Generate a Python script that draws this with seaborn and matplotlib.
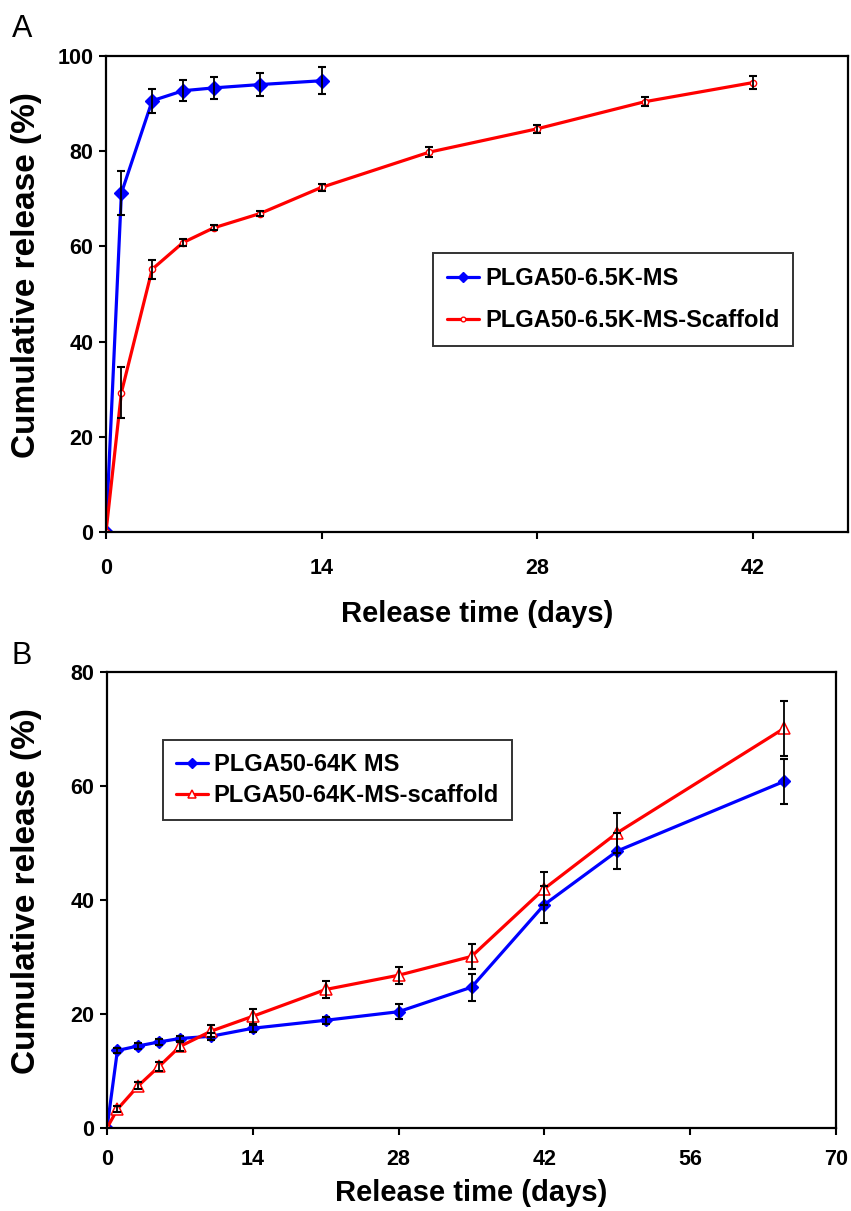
import matplotlib
matplotlib.use("Agg")
import matplotlib.pyplot as plt
import seaborn as sns
import numpy as np

# ---------------- data ----------------
# Panel A
a_days_ms = [0, 1, 3, 5, 7, 10, 14]
a_ms = [0, 71.2, 90.6, 92.7, 93.3, 94.0, 94.8]
a_ms_err = [0, 4.6, 2.5, 2.2, 2.3, 2.4, 2.8]

a_days_sc = [0, 1, 3, 5, 7, 10, 14, 21, 28, 35, 42]
a_sc = [0, 29.3, 55.2, 60.8, 63.9, 66.9, 72.4, 79.8, 84.7, 90.4, 94.4]
a_sc_err = [0, 5.3, 2.0, 0.8, 0.5, 0.5, 0.8, 1.0, 0.8, 1.0, 1.3]

a_labels = ["PLGA50-6.5K-MS", "PLGA50-6.5K-MS-Scaffold"]
a_xticks = [0, 14, 28, 42]
a_yticks = [0, 20, 40, 60, 80, 100]

# Panel B
b_days = [0, 1, 3, 5, 7, 10, 14, 21, 28, 35, 42, 49, 65]
b_ms = [0, 13.6, 14.4, 15.1, 15.7, 16.1, 17.5, 18.9, 20.4, 24.7, 39.2, 48.6, 60.8]
b_ms_err = [0, 0.5, 0.5, 0.5, 0.5, 0.6, 0.6, 0.6, 1.3, 2.4, 3.2, 3.2, 3.9]
b_sc = [0, 3.3, 7.4, 10.8, 14.3, 17.0, 19.6, 24.3, 26.8, 30.1, 42.0, 51.8, 70.1]
b_sc_err = [0, 0.5, 0.6, 0.8, 0.8, 1.0, 1.3, 1.5, 1.5, 2.2, 2.9, 3.5, 4.9]

b_labels = ["PLGA50-64K MS", "PLGA50-64K-MS-scaffold"]
b_xticks = [0, 14, 28, 42, 56, 70]
b_yticks = [0, 20, 40, 60, 80]

xlabel = "Release time (days)"
ylabel = "Cumulative release (%)"

# ---------------- style ----------------
sns.set_theme(style="ticks")
plt.rcParams["font.family"] = ["Liberation Sans", "DejaVu Sans"]
plt.rcParams["text.color"] = "black"
plt.rcParams["axes.labelcolor"] = "black"
plt.rcParams["xtick.color"] = "black"
plt.rcParams["ytick.color"] = "black"
plt.rcParams["legend.labelcolor"] = "black"

BLUE = "#0000ff"
RED = "#ff0000"

W, H = 851, 1211
fig = plt.figure(figsize=(W / 100, H / 100), dpi=100)


def px_axes(left, top, right, bottom):
    return fig.add_axes([left / W, 1 - bottom / H, (right - left) / W, (bottom - top) / H])


def style_axes(ax, xticks, yticks, xlim, ylim, xpad, xlabel_y, ylabel_x, ylabel_y):
    ax.set_xlim(*xlim)
    ax.set_ylim(*ylim)
    ax.set_xticks(xticks)
    ax.set_yticks(yticks)
    for s in ax.spines.values():
        s.set_visible(True)
        s.set_color("black")
        s.set_linewidth(1.6)
    ax.tick_params(axis="both", direction="out", length=5, width=1.5, colors="black",
                   labelsize=15.5)
    ax.tick_params(axis="x", pad=xpad)
    ax.tick_params(axis="y", pad=4)
    for lab in ax.get_xticklabels() + ax.get_yticklabels():
        lab.set_fontweight("bold")
    ax.set_xlabel(xlabel, fontsize=21, fontweight="bold", color="black")
    ax.set_ylabel(ylabel, fontsize=24, fontweight="bold", color="black")
    ax.xaxis.set_label_coords(0.5, xlabel_y)
    ax.yaxis.set_label_coords(ylabel_x, ylabel_y)
    ax.grid(False)
    ax.set_facecolor("white")


def draw_series(ax, x, y, err, color, marker, ms, mfc, mew):
    sns.lineplot(x=x, y=y, ax=ax, color=color, linewidth=2.3, marker=marker,
                 markersize=ms, markerfacecolor=mfc, markeredgecolor=color,
                 markeredgewidth=mew, errorbar=None, legend=False, zorder=2)
    handle = ax.lines[-1]
    e = np.array(err)
    mask = e > 0
    ax.errorbar(np.array(x)[mask], np.array(y)[mask], yerr=e[mask], fmt="none",
                ecolor="black", elinewidth=1.3, capsize=3, capthick=1.5, zorder=3)
    return handle


def make_legend(ax, handles, labels, anchor, spacing, pad):
    leg = ax.legend(handles, labels, loc="upper left", bbox_to_anchor=anchor,
                    borderaxespad=0, frameon=True, fancybox=False, edgecolor="black",
                    prop={"weight": "bold", "size": 17}, handlelength=1.35,
                    handletextpad=0.25, labelspacing=spacing, borderpad=pad,
                    markerscale=0.75)
    leg.get_frame().set_linewidth(1.4)
    for t in leg.get_texts():
        t.set_color("black")
    return leg


# ---------------- Panel A ----------------
axA = px_axes(106, 56, 848, 532)
hA1 = draw_series(axA, a_days_ms, a_ms, a_ms_err, BLUE, "D", 7, BLUE, 1.0)
hA2 = draw_series(axA, a_days_sc, a_sc, a_sc_err, RED, "o", 4.5, "white", 1.0)
style_axes(axA, a_xticks, a_yticks, (0, 48.2), (0, 100), xpad=14,
           xlabel_y=-0.143, ylabel_x=-0.0863, ylabel_y=0.54)
make_legend(axA, [hA1, hA2], a_labels, (0.4407, 0.586), 0.8, 0.6)

# ---------------- Panel B ----------------
axB = px_axes(107, 672, 836, 1128)
hB1 = draw_series(axB, b_days, b_ms, b_ms_err, BLUE, "D", 6.5, BLUE, 1.0)
hB2 = draw_series(axB, b_days, b_sc, b_sc_err, RED, "^", 8.5, "white", 1.1)
style_axes(axB, b_xticks, b_yticks, (0, 70), (0, 80), xpad=10,
           xlabel_y=-0.112, ylabel_x=-0.0892, ylabel_y=0.52)
make_legend(axB, [hB1, hB2], b_labels, (0.0768, 0.851), 0.35, 0.55)

# ---------------- Panel letters ----------------
fig.text(12 / W, 1 - 37 / H, "A", fontsize=22, ha="left", va="baseline", color="black")
fig.text(12 / W, 1 - 664 / H, "B", fontsize=22, ha="left", va="baseline", color="black")

fig.savefig("out.png", dpi=100, facecolor="white")
